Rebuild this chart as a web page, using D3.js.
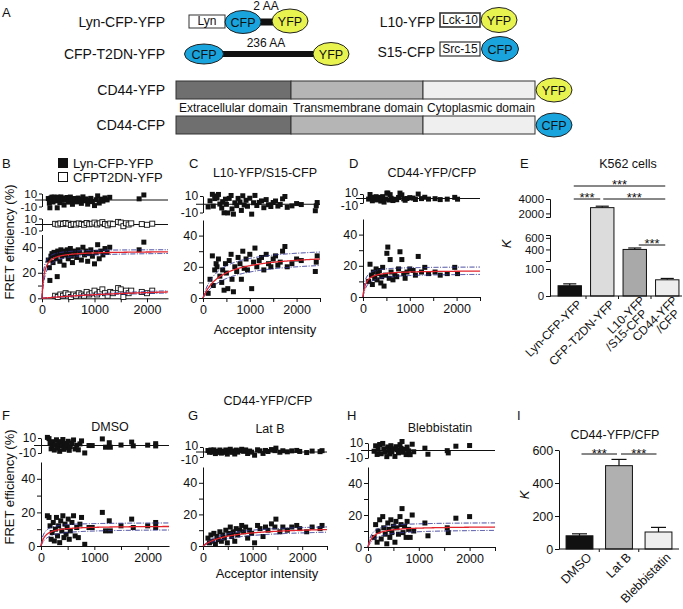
<!DOCTYPE html>
<html><head><meta charset="utf-8">
<script src="https://cdn.jsdelivr.net/npm/d3@7"></script>
<style>body{margin:0;background:#fff} text{font-family:"Liberation Sans",Arial,Helvetica,sans-serif}</style>
</head><body><svg id="fig" width="683" height="609"></svg>
<script>
// ---------------- DATA ----------------
// scatter points [acceptor intensity, FRET efficiency %]
const bLynPoints = [[120,30],[140,24],[150,14],[170,33],[190,35],[210,28],[230,36],[250,34],[270,31],[290,17],[300,37],[320,35],[340,29],[360,38],[380,33],[400,36],[420,26],[440,37],[460,34],[480,38],[500,31],[520,36],[540,39],[560,33],[580,28],[600,37],[630,35],[660,32],[690,38],[720,36],[750,30],[780,40],[810,34],[840,37],[870,29],[900,35],[930,38],[960,33],[1000,27],[1030,36],[1060,42],[1090,31],[1120,37],[1160,34],[1200,39],[1240,36],[1290,40],[1850,38],[1940,44]];
const bT2dnPoints = [[250,2],[300,1],[350,3],[400,2],[450,4],[500,3],[550,1],[600,3],[650,2],[700,4],[750,3],[800,2],[850,5],[900,3],[950,4],[1000,6],[1050,3],[1100,5],[1150,7],[1200,4],[1250,2],[1300,5],[1350,4],[1450,8],[1500,7],[1550,1],[1600,6],[1650,4],[1700,6],[1900,5],[2000,4],[2100,6]];
const cPoints = [[110,3],[150,12],[200,27],[220,8],[250,18],[280,22],[300,20],[330,25],[360,14],[400,10],[420,18],[450,5],[480,22],[500,16],[530,6],[560,24],[600,28],[620,12],[650,4],[680,20],[720,17],[750,26],[790,22],[820,12],[850,30],[880,19],[920,25],[950,18],[1000,28],[1040,6],[1080,23],[1110,32],[1150,20],[1200,24],[1250,26],[1300,18],[1350,28],[1400,22],[1450,20],[1500,25],[1550,27],[1600,21],[1650,23],[1700,30],[1750,33],[1800,20],[1900,22],[2000,25],[2100,24],[2400,17],[2420,23],[2440,27]];
const dPoints = [[120,10],[150,21],[180,14],[200,8],[220,16],[250,12],[280,18],[300,11],[320,15],[350,17],[380,9],[400,13],[420,19],[450,7],[480,14],[510,28],[530,32],[560,12],[580,24],[600,16],[640,11],[680,14],[720,13],[760,18],[790,29],[830,24],[870,15],[900,12],[940,16],[1000,18],[1070,17],[1120,14],[1180,26],[1250,16],[1320,19],[1400,15],[1540,16],[1650,14],[1800,15],[1960,19],[2020,15]];
const fPoints = [[120,18],[150,17],[170,12],[190,4],[210,8],[230,14],[250,3],[270,10],[290,17],[310,6],[330,12],[350,2],[370,15],[390,9],[410,18],[430,5],[450,13],[470,7],[490,11],[510,16],[530,4],[550,9],[580,14],[610,18],[640,6],[670,11],[700,5],[730,13],[760,17],[820,1],[900,11],[960,11],[1150,20],[1210,9],[1280,15],[1300,9],[1500,12],[1700,16],[1730,11],[2000,12],[2150,14],[2150,11]];
const gPoints = [[100,5],[130,2],[160,7],[190,3],[220,8],[250,1],[280,6],[310,4],[340,9],[370,3],[400,7],[430,5],[460,10],[490,2],[520,8],[550,12],[580,6],[610,9],[640,3],[670,11],[700,7],[740,10],[780,13],[820,9],[860,12],[900,5],[940,10],[980,8],[1040,2],[1100,13],[1150,11],[1210,6],[1260,12],[1310,10],[1380,14],[1450,12],[1470,17],[1550,9],[1610,12],[1700,10],[1790,12],[1890,13],[1950,11],[2090,9],[2200,12],[2360,11],[2400,13]];
const hPoints = [[120,6],[150,14],[180,3],[200,10],[230,17],[260,5],[290,19],[310,12],[340,8],[370,2],[390,15],[410,11],[430,6],[450,17],[470,9],[500,13],[530,3],[550,16],[570,12],[600,8],[630,19],[650,14],[670,24],[690,9],[720,13],[750,6],[770,16],[800,11],[830,6],[870,20],[900,10],[1120,15],[1180,7],[1560,12],[1580,9],[1730,18],[2000,19]];

// hyperbolic fit E = Emax*A/(K+A), with confidence band curves
const fitNames = ["B-Lyn","B-T2DN","C","D","F","G","H"];
const fitEmax  = [37, 11, 29, 17, 12, 12.5, 13];
const fitK     = [40, 2900, 400, 60, 80, 505, 103];
const ciHiEmax = [38.5, 12.5, 33, 19.5, 14, 14, 15.5];
const ciHiK    = [25, 2700, 300, 40, 50, 400, 70];
const ciLoEmax = [36, 9.5, 25, 15, 10, 11, 11];
const ciLoK    = [60, 3100, 500, 90, 120, 650, 150];

// Panel E
const eCategories = ["Lyn-CFP-YFP","CFP-T2DN-YFP","L10-YFP/S15-CFP","CD44-YFP/CFP"];
const eLabelLines = [["Lyn-CFP-YFP"],["CFP-T2DN-YFP"],["L10-YFP","/S15-CFP"],["CD44-YFP","/CFP"]];
const eK = [38, 2800, 400, 60];
const eErr = [7, 200, 25, 5];
const eColors = ["#111111","#dcdcdc","#a9a9a9","#ededed"];
const eBreakDomain = [0,100,200,650,1500,4000];
const eSegments = [[0,100],[200,650],[1500,4000]];
const eTicks = [[0,100],[400,600],[2000,4000]];
const eSig = [[0,3,"***"],[0,1,"***"],[1,3,"***"],[2,3,"***"]];

// Panel I
const iCategories = ["DMSO","Lat B","Blebbistatin"];
const iK = [80, 505, 103];
const iErr = [12, 38, 28];
const iColors = ["#111111","#b0b0b0","#eeeeee"];
const iTicks = [0,200,400,600];
const iSig = [[0,1,"***"],[1,2,"***"]];

// ---------------- DRAW ----------------
const svg = d3.select("#fig");
svg.append("rect").attr("width",683).attr("height",609).attr("fill","#fff");
const CFP_COL = "#1aa4dd", YFP_COL = "#e9f350";

function txt(x, y, s, size, anchor, opts) {
  const t = svg.append("text").attr("x",x).attr("y",y).attr("font-size",size)
    .attr("text-anchor",anchor||"start").attr("fill","#111").text(s);
  if (opts && opts.italic) t.attr("font-style","italic");
  if (opts && opts.rotate) t.attr("transform",`rotate(${opts.rotate},${x},${y})`);
  return t;
}
function ell(cx, cy, rx, ry, fill, label) {
  svg.append("ellipse").attr("cx",cx).attr("cy",cy).attr("rx",rx).attr("ry",ry)
    .attr("fill",fill).attr("stroke","#222").attr("stroke-width",1);
  txt(cx, cy+4.5, label, 12.5, "middle");
}
function box(x, y, w, h, label, sw) {
  svg.append("rect").attr("x",x).attr("y",y).attr("width",w).attr("height",h)
    .attr("fill","#fff").attr("stroke","#333").attr("stroke-width",sw||1);
  txt(x+w/2, y+h-3, label, 12, "middle");
}
function bar(x1, x2, y, h) {
  svg.append("rect").attr("x",x1).attr("y",y-h/2).attr("width",x2-x1).attr("height",h).attr("fill","#111");
}

// ---- Panel A ----
txt(2, 17, "A", 13);
txt(165, 27, "Lyn-CFP-YFP", 14, "end");
box(189, 15, 36, 13, "Lyn");
bar(258, 276, 22, 7);
ell(243, 22, 18, 11.5, CFP_COL, "CFP");
ell(290, 21, 18, 12, YFP_COL, "YFP");
txt(266, 10, "2 AA", 12, "middle");

txt(165, 59, "CFP-T2DN-YFP", 14, "end");
bar(215, 320, 54, 6);
ell(204, 54, 19.5, 10, CFP_COL, "CFP");
ell(331, 54, 18, 11.5, YFP_COL, "YFP");
txt(266, 47, "236 AA", 12, "middle");

txt(435, 27, "L10-YFP", 14, "end");
box(440, 13, 40, 14, "Lck-10", 1.6);
ell(499, 20, 18, 12.5, YFP_COL, "YFP");
txt(435, 57, "S15-CFP", 14, "end");
box(440, 42, 40, 14, "Src-15", 1.2);
ell(500, 49, 18.5, 12.5, CFP_COL, "CFP");

[[81,"CD44-YFP","YFP",YFP_COL,90],[116,"CD44-CFP","CFP",CFP_COL,125]].forEach(r => {
  const segs = [[176,291,"#6f6f6f"],[291,423,"#b5b5b5"],[423,535,"#efefef"]];
  segs.forEach(s => svg.append("rect").attr("x",s[0]).attr("y",r[0]).attr("width",s[1]-s[0]).attr("height",18)
     .attr("fill",s[2]).attr("stroke","#333").attr("stroke-width",1));
  ell(554, r[4], 18, 12, r[3], r[2]);
  txt(165, r[4]+5, r[1], 14, "end");
});
txt(179, 112, "Extracellular domain", 12);
txt(293, 112, "Transmembrane domain", 12);
txt(427, 112, "Cytoplasmic domain", 12);

// ---- scatter panels ----
function styleAxis(sel, size) {
  sel.selectAll("path,line").attr("stroke","#111").attr("stroke-width",1);
  sel.selectAll("text").attr("font-size",size||12.5).attr("fill","#111")
     .attr("font-family",'"Liberation Sans",Arial,Helvetica,sans-serif');
}
function model(i, which) {
  const em = which==="hi" ? ciHiEmax[i] : which==="lo" ? ciLoEmax[i] : fitEmax[i];
  const k  = which==="hi" ? ciHiK[i] : which==="lo" ? ciLoK[i] : fitK[i];
  return a => em * a / (k + a);
}
function scatterPanel(p) {
  const x = d3.scaleLinear().domain([0, p.xmax]).range([p.x0, p.x1]);
  const y = d3.scaleLinear().domain([0, 50]).range([p.yb, p.yt]);
  const g = svg.append("g");
  const xt = d3.range(0, p.xmax+1, 500);
  const ax = g.append("g").attr("transform",`translate(0,${p.yb})`)
    .call(d3.axisBottom(x).tickValues(xt).tickFormat(d => d%1000===0 ? d : "").tickSize(4).tickSizeOuter(0));
  styleAxis(ax);
  const ay = g.append("g").attr("transform",`translate(${p.x0},0)`)
    .call(d3.axisLeft(y).tickValues([0,10,20,30,40]).tickFormat(d => d%20===0 ? d : "").tickSize(4).tickSizeOuter(0));
  styleAxis(ay);
  ay.selectAll(".tick text").attr("dx","0.1em");

  p.series.forEach(s => {
    const f = model(s.fit);
    // residual strip
    const st = p.strips[s.strip];
    const ys = d3.scaleLinear().domain([-10,10]).range([st.yb, st.yt]);
    const sa = g.append("g").attr("transform",`translate(${p.x0},0)`)
      .call(d3.axisLeft(ys).tickValues([-10,10]).tickFormat(d => String(d)).tickSize(3).tickSizeOuter(0));
    styleAxis(sa, st.fs || 12);
    sa.selectAll(".tick text").attr("dx","0.1em");
    if (st.tight) {
      sa.selectAll(".tick text").attr("dy", d => d > 0 ? "0.2em" : "0.55em");
    }
    g.append("line").attr("x1",p.x0-7).attr("x2",p.x1).attr("y1",ys(0)).attr("y2",ys(0))
      .attr("stroke","#111").attr("stroke-width",1);
    g.append("g").selectAll("rect").data(s.data).join("rect")
      .attr("x",d => x(d[0])-2.5)
      .attr("y",d => ys(Math.max(-12, Math.min(12, d[1]-f(d[0]))))-2.5)
      .attr("width",5).attr("height",5)
      .attr("fill", s.open ? "#fff" : "#111").attr("stroke","#111").attr("stroke-width", s.open ? 0.9 : 0);
    // main points
    g.append("g").selectAll("rect").data(s.data).join("rect")
      .attr("x",d => x(d[0])-2.5).attr("y",d => y(d[1])-2.5)
      .attr("width",5).attr("height",5)
      .attr("fill", s.open ? "#fff" : "#111").attr("stroke","#111").attr("stroke-width", s.open ? 0.9 : 0);
  });
  p.series.forEach(s => {
    const samples = d3.range(0, p.xmax+1, 10);
    ["hi","lo"].forEach(w => {
      const m = model(s.fit, w);
      g.append("path").datum(samples)
        .attr("d", d3.line().x(a => x(a)).y(a => y(m(a))))
        .attr("fill","none").attr("stroke","#2e3192").attr("stroke-width",1)
        .attr("stroke-dasharray","5,1.5,1,1.5");
    });
    const m = model(s.fit);
    g.append("path").datum(samples)
      .attr("d", d3.line().x(a => x(a)).y(a => y(m(a))))
      .attr("fill","none").attr("stroke","#e3232c").attr("stroke-width",1.3);
  });
}

scatterPanel({x0:42, x1:168, xmax:2400, yb:298.3, yt:234.5,
  strips:[{yb:206.5, yt:193.5, fs:11.5},{yb:230.5, yt:218.5, fs:11.5}],
  series:[{data:bLynPoints, fit:0, strip:0, open:false},{data:bT2dnPoints, fit:1, strip:1, open:true}]});
scatterPanel({x0:203, x1:320, xmax:2500, yb:298, yt:220,
  strips:[{yb:212.5, yt:196}], series:[{data:cPoints, fit:2, strip:0}]});
scatterPanel({x0:363, x1:480, xmax:2500, yb:297, yt:219,
  strips:[{yb:203, yt:194, tight:true, fs:12}], series:[{data:dPoints, fit:3, strip:0}]});
scatterPanel({x0:41, x1:169, xmax:2400, yb:546, yt:462,
  strips:[{yb:453, yt:438}], series:[{data:fPoints, fit:4, strip:0}]});
scatterPanel({x0:203, x1:327, xmax:2500, yb:546, yt:467,
  strips:[{yb:457, yt:447, tight:true, fs:12}], series:[{data:gPoints, fit:5, strip:0}]});
scatterPanel({x0:368, x1:495, xmax:2500, yb:547, yt:467,
  strips:[{yb:458, yt:443}], series:[{data:hPoints, fit:6, strip:0}]});

// labels for scatter rows
txt(2, 168, "B", 13);
svg.append("rect").attr("x",58).attr("y",158).attr("width",10).attr("height",10).attr("fill","#111");
txt(73, 168, "Lyn-CFP-YFP", 13);
svg.append("rect").attr("x",58.5).attr("y",172.5).attr("width",9).attr("height",9).attr("fill","#fff").attr("stroke","#111");
txt(73, 182, "CFPT2DN-YFP", 13);
txt(189, 168, "C", 13);
txt(265, 177, "L10-YFP/S15-CFP", 12.5, "middle");
txt(349, 168, "D", 13);
txt(432, 177, "CD44-YFP/CFP", 12.5, "middle");
txt(520, 168, "E", 13);
txt(628, 168, "K562 cells", 12.5, "middle");
txt(14, 242, "FRET efficiency (%)", 13, "middle", {rotate:-90});
txt(265, 334, "Acceptor intensity", 13, "middle");

txt(268, 405, "CD44-YFP/CFP", 12.5, "middle");
txt(2, 420, "F", 13);
txt(188, 420, "G", 13);
txt(347, 420, "H", 13);
txt(517, 420, "I", 13);
txt(110, 431, "DMSO", 12.5, "middle");
txt(270, 433, "Lat B", 12.5, "middle");
txt(440, 432, "Blebbistatin", 12.5, "middle");
txt(14, 487, "FRET efficiency (%)", 13, "middle", {rotate:-90});
txt(267, 578, "Acceptor intensity", 13, "middle");
txt(615, 439, "CD44-YFP/CFP", 12.5, "middle");

// ---- Panel E ----
(function(){
  const g = svg.append("g");
  const x = d3.scaleBand().domain(eCategories).range([553.5, 683.5]).paddingInner(0.28).paddingOuter(0.14);
  const y = d3.scaleLinear().domain(eBreakDomain).range([296,269,261,235,217,199]);
  const x0 = 550, y0 = y(0);
  eSegments.forEach((seg, i) => {
    const ys = d3.scaleLinear().domain(seg).range([y(seg[0]), y(seg[1])]);
    const a = g.append("g").attr("transform",`translate(${x0},0)`)
      .call(d3.axisLeft(ys).tickValues(eTicks[i]).tickSize(4).tickSizeOuter(4).tickFormat(d3.format("d")));
    styleAxis(a, 11.5);
    a.selectAll(".tick text").attr("dx","0.1em");
  });
  eCategories.forEach((c, i) => {
    const bx = x(c), bw = x.bandwidth(), top = y(eK[i]), cx = bx + bw/2;
    const et = y(eK[i] + eErr[i]);
    g.append("line").attr("x1",cx).attr("x2",cx).attr("y1",top).attr("y2",et).attr("stroke","#111").attr("stroke-width",1.2);
    g.append("line").attr("x1",cx-bw*0.28).attr("x2",cx+bw*0.28).attr("y1",et).attr("y2",et).attr("stroke","#111").attr("stroke-width",1.2);
    g.append("rect").attr("x",bx).attr("y",top).attr("width",bw).attr("height",y0-top)
      .attr("fill",eColors[i]).attr("stroke","#111").attr("stroke-width",1);
  });
  g.append("line").attr("x1",x0).attr("x2",682).attr("y1",y0).attr("y2",y0).attr("stroke","#111");
  const sep = eCategories.slice(1).map(c => x(c) - x.step()*x.paddingInner()/2);
  sep.forEach(s => g.append("line").attr("x1",s).attr("x2",s).attr("y1",y0).attr("y2",y0+3).attr("stroke","#111"));
  const sigY = [186, 199, 199, 245];
  eSig.forEach((s, i) => {
    const a = x(eCategories[s[0]]) + x.bandwidth()/2 + 4, b = x(eCategories[s[1]]) + x.bandwidth()/2 - 2;
    const a2 = s[0]===1 ? a - 3 : a;
    g.append("line").attr("x1",a2).attr("x2",b).attr("y1",sigY[i]).attr("y2",sigY[i]).attr("stroke","#111");
    txt((a2+b)/2, sigY[i]+3, s[2], 13, "middle");
  });
  eLabelLines.forEach((lines, i) => {
    const multi = lines.length > 1;
    const cx = x(eCategories[i]) + x.bandwidth()/2 + (multi ? 11 : 13), cy = y0 + (multi ? 5 : 9);
    const t = svg.append("text").attr("transform",`translate(${cx},${cy}) rotate(-45)`)
      .attr("text-anchor","end").attr("font-size",12).attr("fill","#111");
    lines.forEach((l, j) => t.append("tspan").attr("x", j===0 ? 0 : -8).attr("y", j===0 ? 0 : 11).text(l));
  });
  txt(511, 244, "K", 13, "middle", {italic:true, rotate:-90});
})();

// ---- Panel I ----
(function(){
  const g = svg.append("g");
  const x = d3.scaleBand().domain(iCategories).range([559.75, 678.25]).paddingInner(0.32).paddingOuter(0.16);
  const y = d3.scaleLinear().domain([0,600]).range([549,450]);
  const x0 = 559, y0 = y(0);
  const a = g.append("g").attr("transform",`translate(${x0},0)`)
    .call(d3.axisLeft(y).tickValues(iTicks).tickSize(4).tickSizeOuter(0));
  styleAxis(a, 12.5);
  a.selectAll(".tick text").attr("dx","0.1em");
  iCategories.forEach((c, i) => {
    const bx = x(c), bw = x.bandwidth(), top = y(iK[i]), cx = bx + bw/2;
    const et = y(iK[i] + iErr[i]);
    g.append("line").attr("x1",cx).attr("x2",cx).attr("y1",top).attr("y2",et).attr("stroke","#111").attr("stroke-width",1.2);
    g.append("line").attr("x1",cx-bw*0.28).attr("x2",cx+bw*0.28).attr("y1",et).attr("y2",et).attr("stroke","#111").attr("stroke-width",1.2);
    g.append("rect").attr("x",bx).attr("y",top).attr("width",bw).attr("height",y0-top)
      .attr("fill",iColors[i]).attr("stroke","#111").attr("stroke-width",1);
  });
  g.append("line").attr("x1",x0).attr("x2",679).attr("y1",y0).attr("y2",y0).attr("stroke","#111");
  iCategories.slice(1).forEach(c => {
    const s = x(c) - x.step()*x.paddingInner()/2;
    g.append("line").attr("x1",s).attr("x2",s).attr("y1",y0).attr("y2",y0+3).attr("stroke","#111");
  });
  iSig.forEach(s => {
    const a1 = x(iCategories[s[0]]) + x.bandwidth()/2 + 2, b1 = x(iCategories[s[1]]) + x.bandwidth()/2 - 2;
    g.append("line").attr("x1",a1).attr("x2",b1).attr("y1",454).attr("y2",454).attr("stroke","#111");
    txt((a1+b1)/2, 457.5, s[2], 13, "middle");
  });
  iCategories.forEach((c, i) => {
    const cx = x(c) + x.bandwidth()/2 + 13, cy = y0 + 9;
    svg.append("text").attr("transform",`translate(${cx},${cy}) rotate(-45)`)
      .attr("text-anchor","end").attr("font-size",12.5).attr("fill","#111").text(c);
  });
  txt(529, 495, "K", 13, "middle", {italic:true, rotate:-90});
})();
</script></body></html>
